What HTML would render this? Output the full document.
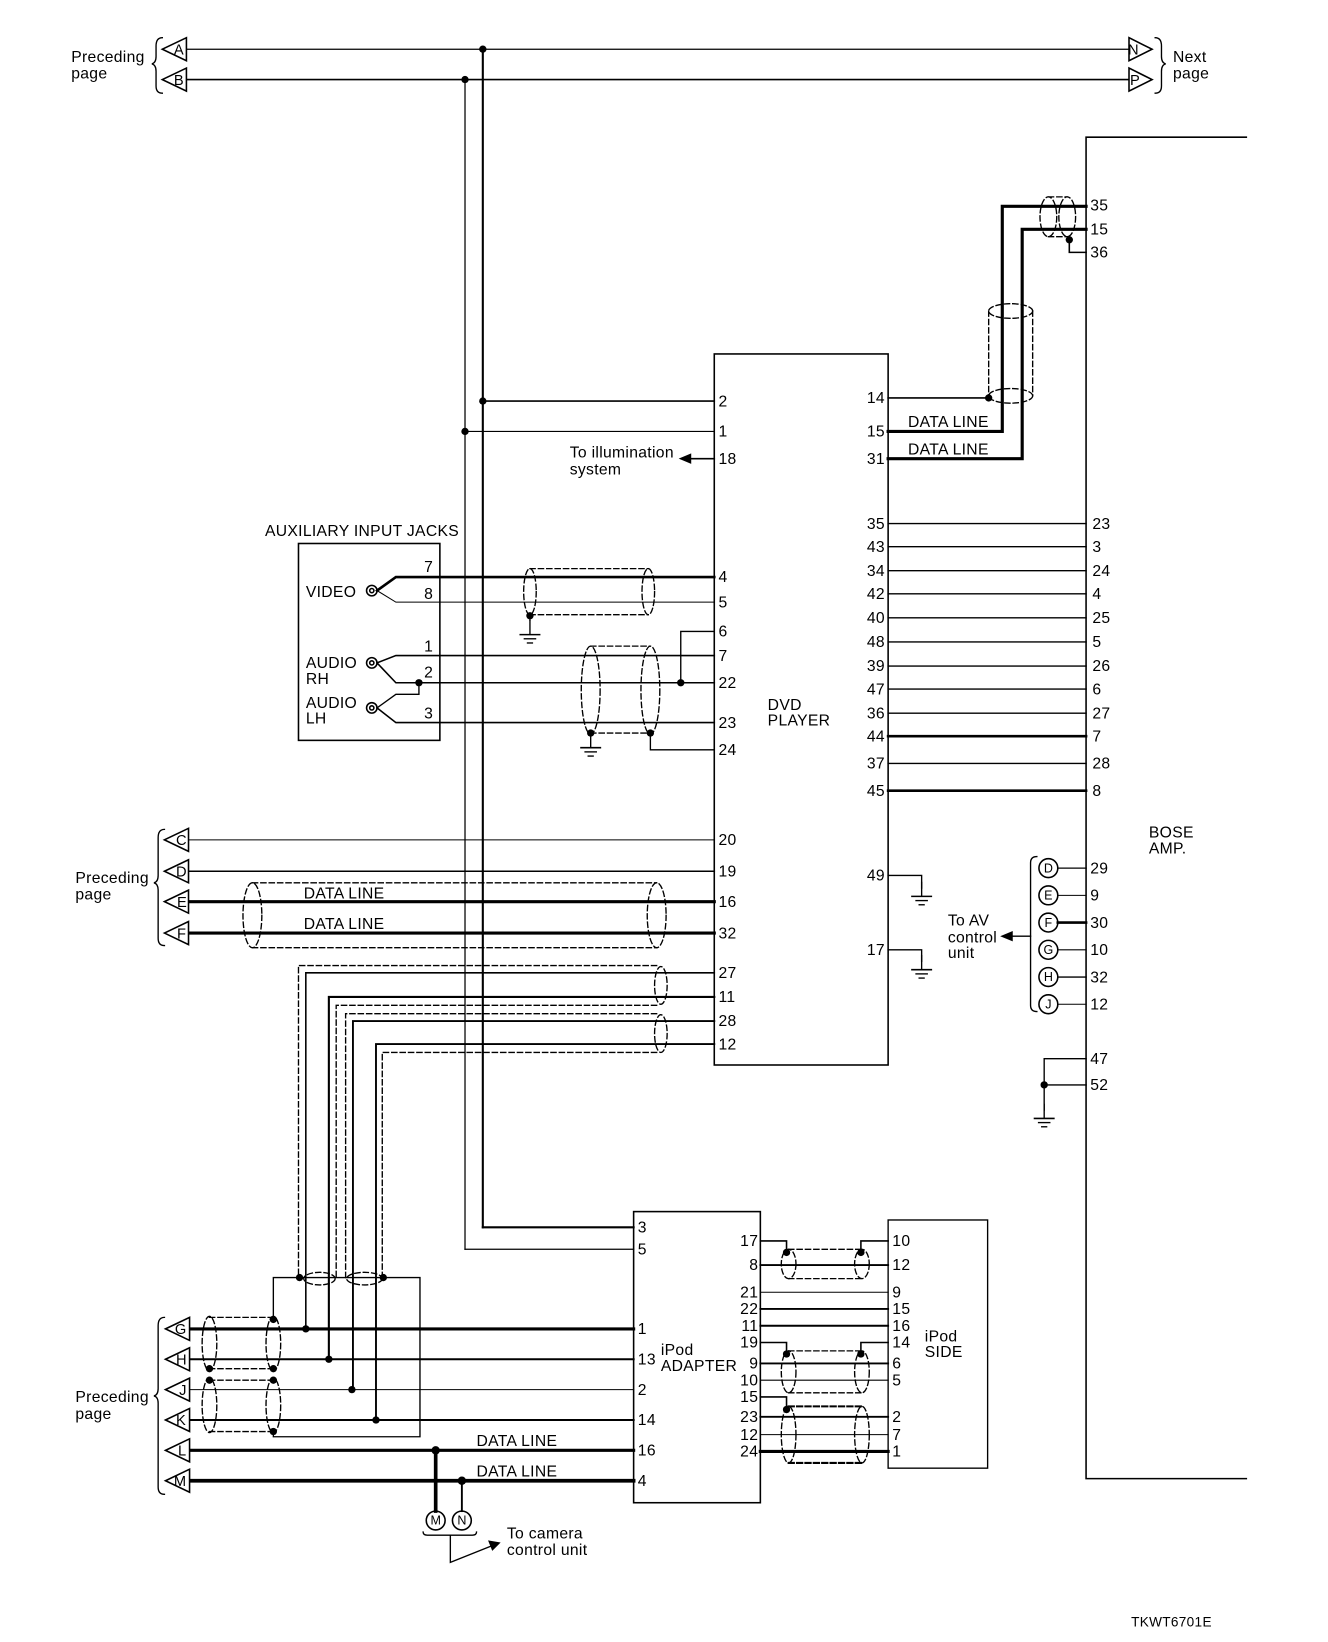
<!DOCTYPE html>
<html><head><meta charset="utf-8"><style>
html,body{margin:0;padding:0;background:#fff}
svg{display:block}
text{font-family:"Liberation Sans",sans-serif;font-size:15px;letter-spacing:0.3px;fill:#000}
</style></head><body>
<svg width="1328" height="1642" viewBox="0 0 1268 1568" preserveAspectRatio="none" xmlns="http://www.w3.org/2000/svg">
<defs>
<g id="gnd"><line x1="0" y1="0" x2="0" y2="14" stroke="#000" stroke-width="1.3"/><line x1="-10" y1="14" x2="10" y2="14" stroke="#000" stroke-width="1.5"/><line x1="-6" y1="18" x2="6" y2="18" stroke="#000" stroke-width="1.3"/><line x1="-3" y1="22" x2="3" y2="22" stroke="#000" stroke-width="1.3"/></g>
<g id="tri"><polygon points="0,0 23,-11 23,11" fill="#fff" stroke="#000" stroke-width="1.5"/></g>
<g id="trir"><polygon points="22,0 0,-11 0,11" fill="#fff" stroke="#000" stroke-width="1.5"/></g>
</defs>
<g stroke="#000" fill="none" stroke-linecap="square">
<line x1="178" y1="47" x2="1078" y2="47" stroke-width="1.2"/>
<line x1="178" y1="76" x2="1078" y2="76" stroke-width="1.5"/>
<line x1="461" y1="47" x2="461" y2="1172" stroke-width="2"/>
<line x1="444" y1="76" x2="444" y2="1193" stroke-width="1.2"/>
<path d="M155,36 q-6,0 -6,8 v10 q0,6 -4,7 q4,1 4,7 v14 q0,7 6,7" stroke-width="1.3"/>
<path d="M1103,36 q6,0 6,8 v10 q0,6 4,7 q-4,1 -4,7 v14 q0,7 -6,7" stroke-width="1.3"/>
<path d="M1190,131 H1037 V1412 H1190" stroke-width="1.5"/>
<rect x="682" y="338" width="166" height="679" stroke-width="1.5"/>
<line x1="461" y1="383" x2="682" y2="383" stroke-width="1.5"/>
<line x1="444" y1="412" x2="682" y2="412" stroke-width="1"/>
<line x1="655" y1="438" x2="682" y2="438" stroke-width="1.5"/>
<line x1="848" y1="380" x2="944" y2="380" stroke-width="1.5"/>
<path d="M848,412 H957 V197 H1037" stroke-width="3"/>
<path d="M848,438 H976 V219 H1037" stroke-width="3"/>
<path d="M1021,229 V241 H1037" stroke-width="1.5"/>
<g stroke-dasharray="5,3" stroke-width="1.3">
<ellipse cx="1001" cy="207" rx="8" ry="19"/><ellipse cx="1019" cy="207" rx="8" ry="19"/>
<line x1="1001" y1="188" x2="1019" y2="188"/><line x1="1001" y1="226" x2="1019" y2="226"/>
<ellipse cx="965" cy="297" rx="21" ry="7"/><ellipse cx="965" cy="378" rx="21" ry="7"/>
<line x1="944" y1="297" x2="944" y2="378"/><line x1="986" y1="297" x2="986" y2="378"/>
</g>
<line x1="848" y1="500" x2="1037" y2="500" stroke-width="1.3"/>
<line x1="848" y1="522" x2="1037" y2="522" stroke-width="1.3"/>
<line x1="848" y1="545" x2="1037" y2="545" stroke-width="1.3"/>
<line x1="848" y1="567" x2="1037" y2="567" stroke-width="1.3"/>
<line x1="848" y1="590" x2="1037" y2="590" stroke-width="1.3"/>
<line x1="848" y1="613" x2="1037" y2="613" stroke-width="1.3"/>
<line x1="848" y1="636" x2="1037" y2="636" stroke-width="1.3"/>
<line x1="848" y1="658" x2="1037" y2="658" stroke-width="1.3"/>
<line x1="848" y1="681" x2="1037" y2="681" stroke-width="1.3"/>
<line x1="848" y1="703" x2="1037" y2="703" stroke-width="2.5"/>
<line x1="848" y1="729" x2="1037" y2="729" stroke-width="1.3"/>
<line x1="848" y1="755" x2="1037" y2="755" stroke-width="2.5"/>
<path d="M848,836 H880 V848" stroke-width="1.3"/>
<path d="M848,907 H880 V918" stroke-width="1.3"/>
<line x1="1010" y1="829" x2="1037" y2="829" stroke-width="1.3"/>
<line x1="1010" y1="855" x2="1037" y2="855" stroke-width="1"/>
<line x1="1010" y1="881" x2="1037" y2="881" stroke-width="2.5"/>
<line x1="1010" y1="907" x2="1037" y2="907" stroke-width="1"/>
<line x1="1010" y1="933" x2="1037" y2="933" stroke-width="1.3"/>
<line x1="1010" y1="959" x2="1037" y2="959" stroke-width="1"/>
<path d="M990,818 q-6,0 -6,6 v136 q0,6 6,6" stroke-width="1.3"/>
<line x1="984" y1="894" x2="964" y2="894" stroke-width="1.3"/>
<path d="M1037,1011 H997 V1060" stroke-width="1.3"/>
<line x1="997" y1="1036" x2="1037" y2="1036" stroke-width="1.3"/>
<rect x="285" y="519" width="135" height="188" stroke-width="1.5"/>
<path d="M360,564 L378,551 H682" stroke-width="2.5"/>
<path d="M360,564 L378,575 H682" stroke-width="1"/>
<path d="M360,633 L378,626 H682" stroke-width="1.5"/>
<path d="M360,633 L378,652 H682" stroke-width="1.5"/>
<path d="M360,676 L378,663 H400 V652" stroke-width="1.3"/>
<path d="M360,676 L378,690 H682" stroke-width="1.5"/>
<path d="M682,603 H650 V652" stroke-width="1.3"/>
<path d="M621,700 V716 H682" stroke-width="1.3"/>
<line x1="506" y1="588" x2="506" y2="592" stroke-width="1.3"/>
<g stroke-dasharray="5,3" stroke-width="1.3">
<ellipse cx="506" cy="565" rx="6" ry="22"/><ellipse cx="619" cy="565" rx="6" ry="22"/>
<line x1="506" y1="543" x2="619" y2="543"/><line x1="506" y1="587" x2="619" y2="587"/>
<ellipse cx="564" cy="659" rx="9" ry="42"/><ellipse cx="621" cy="659" rx="9" ry="42"/>
<line x1="564" y1="617" x2="621" y2="617"/><line x1="564" y1="700" x2="621" y2="700"/>
</g>
<line x1="180" y1="802" x2="682" y2="802" stroke-width="1"/>
<line x1="180" y1="832" x2="682" y2="832" stroke-width="1.5"/>
<line x1="180" y1="861" x2="682" y2="861" stroke-width="3"/>
<line x1="180" y1="891" x2="682" y2="891" stroke-width="3"/>
<path d="M157,792 q-6,0 -6,8 v36 q0,6 -4,7 q4,1 4,7 v46 q0,7 6,7" stroke-width="1.3"/>
<g stroke-dasharray="5,3" stroke-width="1.3">
<ellipse cx="241" cy="874" rx="9" ry="31"/><ellipse cx="627" cy="874" rx="9" ry="31"/>
<line x1="241" y1="843" x2="627" y2="843"/><line x1="241" y1="905" x2="627" y2="905"/>
</g>
<path d="M682,929 H292 V1269" stroke-width="1.5"/>
<path d="M682,952 H314 V1298" stroke-width="2"/>
<path d="M682,975 H337 V1327" stroke-width="1.8"/>
<path d="M682,997 H359 V1356" stroke-width="1.8"/>
<g stroke-dasharray="5,3" stroke-width="1.3">
<path d="M627,922 H285 V1220"/>
<path d="M627,960 H321 V1220"/>
<path d="M627,968 H330 V1220"/>
<path d="M627,1005 H365 V1220"/>
<ellipse cx="631" cy="941" rx="6" ry="18"/><ellipse cx="631" cy="987" rx="6" ry="18"/>
<ellipse cx="305" cy="1221" rx="15" ry="6"/><ellipse cx="348" cy="1221" rx="17" ry="6"/>
</g>
<path d="M261,1260 V1220 H401 V1372 H261 V1367" stroke-width="1.3"/>
<line x1="181" y1="1269" x2="605" y2="1269" stroke-width="3"/>
<line x1="181" y1="1298" x2="605" y2="1298" stroke-width="2"/>
<line x1="181" y1="1327" x2="605" y2="1327" stroke-width="1"/>
<line x1="181" y1="1356" x2="605" y2="1356" stroke-width="2"/>
<line x1="181" y1="1385" x2="605" y2="1385" stroke-width="3"/>
<line x1="181" y1="1414" x2="605" y2="1414" stroke-width="3.5"/>
<path d="M157,1258 q-6,0 -6,8 v60 q0,6 -4,7 q4,1 4,7 v80 q0,7 6,7" stroke-width="1.3"/>
<g stroke-dasharray="5,3" stroke-width="1.3">
<ellipse cx="200" cy="1283" rx="7" ry="26"/><ellipse cx="261" cy="1283" rx="7" ry="26"/>
<ellipse cx="200" cy="1342" rx="7" ry="26"/><ellipse cx="261" cy="1342" rx="7" ry="26"/>
<line x1="200" y1="1258" x2="261" y2="1258"/><line x1="200" y1="1307" x2="261" y2="1307"/>
<line x1="200" y1="1318" x2="261" y2="1318"/><line x1="200" y1="1367" x2="261" y2="1367"/>
</g>
<line x1="416" y1="1385" x2="416" y2="1443" stroke-width="3.5"/>
<line x1="441" y1="1414" x2="441" y2="1443" stroke-width="1.8"/>
<circle cx="416" cy="1452" r="9" stroke-width="1.5"/>
<circle cx="441" cy="1452" r="9" stroke-width="1.5"/>
<path d="M404,1463 q0,3 4,3 h43 q4,0 4,-3" stroke-width="1.3"/>
<path d="M430,1466 V1492 L470,1476" stroke-width="1.3"/>
<rect x="605" y="1157" width="121" height="278" stroke-width="1.5"/>
<path d="M461,1172 H605" stroke-width="2"/>
<path d="M444,1193 H605" stroke-width="1.2"/>
<rect x="848" y="1165" width="95" height="237" stroke-width="1.3"/>
<path d="M726,1185 H751 V1196" stroke-width="1.5"/><path d="M848,1185 H822 V1196" stroke-width="1.5"/>
<line x1="726" y1="1208" x2="848" y2="1208" stroke-width="1.8"/>
<line x1="726" y1="1234" x2="848" y2="1234" stroke-width="1"/>
<line x1="726" y1="1250" x2="848" y2="1250" stroke-width="1.8"/>
<line x1="726" y1="1266" x2="848" y2="1266" stroke-width="1.8"/>
<path d="M726,1282 H751 V1293" stroke-width="1.5"/><path d="M848,1282 H822 V1293" stroke-width="1.5"/>
<line x1="726" y1="1302" x2="848" y2="1302" stroke-width="1.8"/>
<line x1="726" y1="1318" x2="848" y2="1318" stroke-width="1"/>
<path d="M726,1334 H751 V1346" stroke-width="1.5"/>
<line x1="726" y1="1353" x2="848" y2="1353" stroke-width="1.8"/>
<line x1="726" y1="1370" x2="848" y2="1370" stroke-width="1"/>
<line x1="726" y1="1386" x2="848" y2="1386" stroke-width="3"/>
<g stroke-dasharray="5,3" stroke-width="1.3">
<ellipse cx="753" cy="1207" rx="7" ry="14"/><ellipse cx="823" cy="1207" rx="7" ry="14"/>
<line x1="753" y1="1193" x2="823" y2="1193"/><line x1="753" y1="1221" x2="823" y2="1221"/>
<ellipse cx="753" cy="1310" rx="7" ry="20"/><ellipse cx="823" cy="1310" rx="7" ry="20"/>
<line x1="753" y1="1290" x2="823" y2="1290"/><line x1="753" y1="1330" x2="823" y2="1330"/>
<ellipse cx="753" cy="1370" rx="7" ry="27"/><ellipse cx="823" cy="1370" rx="7" ry="27"/>
<line x1="753" y1="1343" x2="823" y2="1343" stroke-width="2"/><line x1="753" y1="1397" x2="823" y2="1397" stroke-width="2"/>
</g>
</g>
<polygon points="648,438 660,433 660,443" fill="#000"/>
<polygon points="955,894 967,889 967,899" fill="#000"/>
<polygon points="478,1473 466,1471 470,1481" fill="#000"/>
<use href="#gnd" x="506" y="592"/>
<use href="#gnd" x="564" y="700"/>
<use href="#gnd" x="880" y="842"/>
<use href="#gnd" x="880" y="912"/>
<use href="#gnd" x="997" y="1054"/>
<g fill="#000">
<circle cx="461" cy="47" r="3.5"/><circle cx="444" cy="76" r="3.5"/>
<circle cx="461" cy="383" r="3.5"/><circle cx="444" cy="412" r="3.5"/>
<circle cx="944" cy="380" r="3.5"/><circle cx="1021" cy="229" r="3.5"/>
<circle cx="400" cy="652" r="3.5"/><circle cx="650" cy="652" r="3.5"/>
<circle cx="506" cy="588" r="3.5"/><circle cx="564" cy="700" r="3.5"/><circle cx="621" cy="700" r="3.5"/>
<circle cx="997" cy="1036" r="3.5"/>
<circle cx="286" cy="1220" r="3.5"/><circle cx="366" cy="1220" r="3.5"/>
<circle cx="292" cy="1269" r="3.5"/><circle cx="314" cy="1298" r="3.5"/><circle cx="336" cy="1327" r="3.5"/><circle cx="359" cy="1356" r="3.5"/>
<circle cx="261" cy="1260" r="3.5"/><circle cx="200" cy="1307" r="3.5"/><circle cx="261" cy="1307" r="3.5"/>
<circle cx="200" cy="1318" r="3.5"/><circle cx="261" cy="1318" r="3.5"/><circle cx="261" cy="1367" r="3.5"/>
<circle cx="416" cy="1385" r="4"/><circle cx="441" cy="1414" r="4"/>
<circle cx="751" cy="1196" r="3.5"/><circle cx="822" cy="1196" r="3.5"/>
<circle cx="751" cy="1293" r="3.5"/><circle cx="822" cy="1293" r="3.5"/><circle cx="751" cy="1346" r="3.5"/>
</g>
<g fill="none" stroke="#000" stroke-width="1.5">
<circle cx="355" cy="564" r="5"/><circle cx="355" cy="564" r="2"/>
<circle cx="355" cy="633" r="5"/><circle cx="355" cy="633" r="2"/>
<circle cx="355" cy="676" r="5"/><circle cx="355" cy="676" r="2"/>
<circle cx="1001" cy="829" r="9"/><circle cx="1001" cy="855" r="9"/><circle cx="1001" cy="881" r="9"/>
<circle cx="1001" cy="907" r="9"/><circle cx="1001" cy="933" r="9"/><circle cx="1001" cy="959" r="9"/>
</g>
<use href="#tri" x="155" y="47"/><use href="#tri" x="155" y="76"/>
<use href="#trir" x="1078" y="47"/><use href="#trir" x="1078" y="76"/>
<use href="#tri" x="157" y="802"/><use href="#tri" x="157" y="832"/><use href="#tri" x="157" y="861"/><use href="#tri" x="157" y="891"/>
<use href="#tri" x="158" y="1269"/><use href="#tri" x="158" y="1298"/><use href="#tri" x="158" y="1327"/><use href="#tri" x="158" y="1356"/><use href="#tri" x="158" y="1385"/><use href="#tri" x="158" y="1414"/>
<g>
<text x="166" y="52" style="font-size:14px;letter-spacing:0">A</text><text x="166" y="81" style="font-size:14px;letter-spacing:0">B</text>
<text x="1077" y="52" style="font-size:14px;letter-spacing:0">N</text><text x="1079" y="81" style="font-size:14px;letter-spacing:0">P</text>
<text x="168" y="807" style="font-size:14px;letter-spacing:0">C</text><text x="168" y="837" style="font-size:14px;letter-spacing:0">D</text><text x="169" y="866" style="font-size:14px;letter-spacing:0">E</text><text x="169" y="896" style="font-size:14px;letter-spacing:0">F</text>
<text x="167" y="1274" style="font-size:14px;letter-spacing:0">G</text><text x="168" y="1303" style="font-size:14px;letter-spacing:0">H</text><text x="171" y="1332" style="font-size:14px;letter-spacing:0">J</text><text x="168" y="1361" style="font-size:14px;letter-spacing:0">K</text><text x="170" y="1390" style="font-size:14px;letter-spacing:0">L</text><text x="166" y="1419" style="font-size:14px;letter-spacing:0">M</text>
</g>
<g text-anchor="middle">
<text x="1001" y="833" style="font-size:12px;letter-spacing:0">D</text><text x="1001" y="859" style="font-size:12px;letter-spacing:0">E</text><text x="1001" y="885" style="font-size:12px;letter-spacing:0">F</text>
<text x="1001" y="911" style="font-size:12px;letter-spacing:0">G</text><text x="1001" y="937" style="font-size:12px;letter-spacing:0">H</text><text x="1001" y="963" style="font-size:12px;letter-spacing:0">J</text>
<text x="416" y="1456" style="font-size:12px;letter-spacing:0">M</text><text x="441" y="1456" style="font-size:12px;letter-spacing:0">N</text>
</g>
<text x="68" y="59">Preceding</text><text x="68" y="75">page</text>
<text x="1120" y="59">Next</text><text x="1120" y="75">page</text>
<text x="72" y="843">Preceding</text><text x="72" y="859">page</text>
<text x="72" y="1339">Preceding</text><text x="72" y="1355">page</text>
<text x="1097" y="800">BOSE</text><text x="1097" y="815">AMP.</text>
<text x="733" y="678">DVD</text><text x="733" y="693">PLAYER</text>
<text x="544" y="437">To illumination</text><text x="544" y="453">system</text>
<text x="253" y="512">AUXILIARY INPUT JACKS</text>
<text x="292" y="570">VIDEO</text>
<text x="292" y="638">AUDIO</text><text x="292" y="653">RH</text>
<text x="292" y="676">AUDIO</text><text x="292" y="691">LH</text>
<text x="405" y="546">7</text><text x="405" y="572">8</text><text x="405" y="622">1</text><text x="405" y="647">2</text><text x="405" y="686">3</text>
<text x="867" y="408">DATA LINE</text><text x="867" y="434">DATA LINE</text>
<text x="290" y="858">DATA LINE</text><text x="290" y="887">DATA LINE</text>
<text x="455" y="1381">DATA LINE</text><text x="455" y="1410">DATA LINE</text>
<text x="905" y="884">To AV</text><text x="905" y="900">control</text><text x="905" y="915">unit</text>
<text x="484" y="1469">To camera</text><text x="484" y="1485">control unit</text>
<text x="631" y="1294">iPod</text><text x="631" y="1309">ADAPTER</text>
<text x="883" y="1281">iPod</text><text x="883" y="1296">SIDE</text>
<text x="1080" y="1553" style="font-size:13px">TKWT6701E</text>
<g>
<text x="686" y="388">2</text><text x="686" y="417">1</text><text x="686" y="443">18</text>
<text x="686" y="556">4</text><text x="686" y="580">5</text><text x="686" y="608">6</text><text x="686" y="631">7</text>
<text x="686" y="657">22</text><text x="686" y="695">23</text><text x="686" y="721">24</text>
<text x="686" y="807">20</text><text x="686" y="837">19</text><text x="686" y="866">16</text><text x="686" y="896">32</text>
<text x="686" y="934">27</text><text x="686" y="957">11</text><text x="686" y="980">28</text><text x="686" y="1002">12</text>
</g>
<g text-anchor="end">
<text x="845" y="385">14</text><text x="845" y="417">15</text><text x="845" y="443">31</text>
<text x="845" y="505">35</text><text x="845" y="527">43</text><text x="845" y="550">34</text><text x="845" y="572">42</text>
<text x="845" y="595">40</text><text x="845" y="618">48</text><text x="845" y="641">39</text><text x="845" y="663">47</text>
<text x="845" y="686">36</text><text x="845" y="708">44</text><text x="845" y="734">37</text><text x="845" y="760">45</text>
<text x="845" y="841">49</text><text x="845" y="912">17</text>
</g>
<g>
<text x="1041" y="201">35</text><text x="1041" y="224">15</text><text x="1041" y="246">36</text>
<text x="1043" y="505">23</text><text x="1043" y="527">3</text><text x="1043" y="550">24</text><text x="1043" y="572">4</text>
<text x="1043" y="595">25</text><text x="1043" y="618">5</text><text x="1043" y="641">26</text><text x="1043" y="663">6</text>
<text x="1043" y="686">27</text><text x="1043" y="708">7</text><text x="1043" y="734">28</text><text x="1043" y="760">8</text>
<text x="1041" y="834">29</text><text x="1041" y="860">9</text><text x="1041" y="886">30</text><text x="1041" y="912">10</text>
<text x="1041" y="938">32</text><text x="1041" y="964">12</text>
<text x="1041" y="1016">47</text><text x="1041" y="1041">52</text>
</g>
<g>
<text x="609" y="1177">3</text><text x="609" y="1198">5</text>
<text x="609" y="1274">1</text><text x="609" y="1303">13</text><text x="609" y="1332">2</text><text x="609" y="1361">14</text>
<text x="609" y="1390">16</text><text x="609" y="1419">4</text>
</g>
<g text-anchor="end">
<text x="724" y="1190">17</text><text x="724" y="1213">8</text><text x="724" y="1239">21</text><text x="724" y="1255">22</text>
<text x="724" y="1271">11</text><text x="724" y="1287">19</text><text x="724" y="1307">9</text><text x="724" y="1323">10</text>
<text x="724" y="1339">15</text><text x="724" y="1358">23</text><text x="724" y="1375">12</text><text x="724" y="1391">24</text>
</g>
<g>
<text x="852" y="1190">10</text><text x="852" y="1213">12</text><text x="852" y="1239">9</text><text x="852" y="1255">15</text>
<text x="852" y="1271">16</text><text x="852" y="1287">14</text><text x="852" y="1307">6</text><text x="852" y="1323">5</text>
<text x="852" y="1358">2</text><text x="852" y="1375">7</text><text x="852" y="1391">1</text>
</g>
</svg>
</body></html>
